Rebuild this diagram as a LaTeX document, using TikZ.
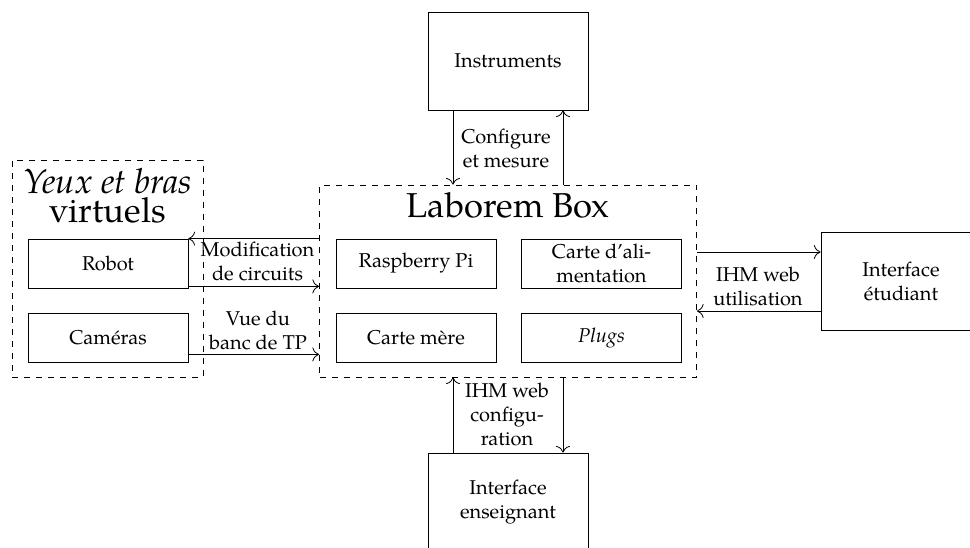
\documentclass[tikz,border=0pt]{standalone}
\usepackage{fontspec}
\setmainfont{TeX Gyre Pagella}
\usetikzlibrary{arrows.meta}
\begin{document}
\begin{tikzpicture}[x=0.5pt,y=-0.5pt,
  box/.style={draw, minimum width=80pt, minimum height=24.5pt, inner sep=2pt, align=center, font=\normalsize},
  bigbox/.style={draw, minimum width=80pt, minimum height=49pt, inner sep=2pt, align=center},
  group/.style={draw, dashed},
  lbl/.style={inner sep=0pt, align=center},
  arr/.style={-{To[scale=1.35]}}]
\useasboundingbox (0,0) rectangle (970,547);
\clip (0,0) rectangle (970,547);
% groups
\node[group, minimum width=188.5pt, minimum height=96pt] (lab) at (508,281) {};
\node[anchor=base, inner sep=0pt, font=\LARGE] (labt) at (508,217) {Laborem Box};
\node[group, minimum width=95.5pt, minimum height=108.5pt] (eyes) at (107.5,268.5) {};
\node[inner sep=0pt, align=center, font=\fontsize{17.28}{14.5}\selectfont] (eyest) at (107.5,196) {\textit{Yeux et bras}\\virtuels};
% boxes
\node[bigbox] (instr) at (508,61) {Instruments};
\node[box] (robot) at (108,263.5) {Robot};
\node[box] (cam) at (108,337.5) {Caméras};
\node[box] (rpi) at (416,263.5) {Raspberry Pi};
\node[box] (alim) at (601.5,263.5) {Carte d’ali-\\mentation};
\node[box] (mere) at (416,337.5) {Carte mère};
\node[box] (plugs) at (601.5,337.5) {\textit{Plugs}};
\node[bigbox] (etu) at (901,281.5) {Interface\\étudiant};
\node[bigbox] (ens) at (508,502) {Interface\\enseignant};
% connectors
\draw[arr] ([xshift=-27.5pt]instr.south) -- ([xshift=-27.5pt]lab.north);
\draw[arr] ([xshift=27.5pt]lab.north) -- ([xshift=27.5pt]instr.south);
\draw[arr] (lab.west |- robot.north east) -- (robot.north east);
\draw[arr] ([yshift=1pt]robot.south east) -- ([yshift=1pt]robot.south east -| lab.west);
\draw[arr] ([yshift=4pt]cam.south east) -- ([yshift=4pt]cam.south east -| lab.west);
\draw[arr] ([yshift=14.75pt]etu.west -| lab.east) -- ([yshift=14.75pt]etu.west);
\draw[arr] ([yshift=-14.75pt]etu.west) -- ([yshift=-14.75pt]etu.west -| lab.east);
\draw[arr] ([xshift=-27.5pt]ens.north) -- ([xshift=-27.5pt]ens.north |- lab.south);
\draw[arr] ([xshift=27.5pt]ens.north |- lab.south) -- ([xshift=27.5pt]ens.north);
% labels
\node[lbl] (l1) at (506,148) {Configure\\et mesure};
\node[lbl] (l2) at (257.5,261) {Modification\\de circuits};
\node[lbl] (l3) at (258,330) {Vue du\\banc de TP};
\node[lbl] (l4) at (758,286) {IHM web\\utilisation};
\node[lbl] (l5) at (507,414) {IHM web\\configu-\\ration};
\end{tikzpicture}
\end{document}
